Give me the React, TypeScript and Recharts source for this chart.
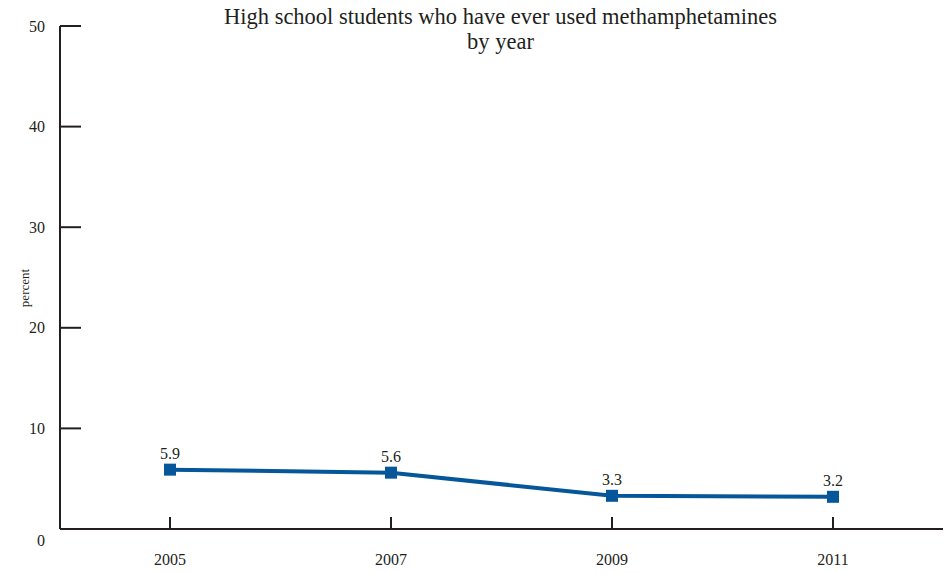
import React from "react";
import { LineChart, Line, XAxis, YAxis, LabelList } from "recharts";

const years = ["2005", "2007", "2009", "2011"];
const percents = [5.9, 5.6, 3.3, 3.2];
const yTicks = [0, 10, 20, 30, 40, 50];

const data = years.map((year, i) => ({ year, value: percents[i] }));

const INK = "#231f20";
const BLUE = "#05579a";
const FONT = "'Liberation Serif', 'DejaVu Serif', serif";

const YTick = (props: any) => {
  const { x, y, payload } = props;
  const isZero = payload.value === 0;
  return (
    <g>
      {!isZero && <line x1={x} x2={x + 21} y1={y} y2={y} stroke={INK} strokeWidth={2} />}
      <text
        x={x - 15}
        y={isZero ? y + 11 : y}
        dy="0.35em"
        textAnchor="end"
        fill={INK}
        style={{ fontFamily: FONT, fontSize: 16 }}
      >
        {payload.value}
      </text>
    </g>
  );
};

const XTick = (props: any) => {
  const { x, y, payload } = props;
  return (
    <g>
      <line x1={x} x2={x} y1={y} y2={y - 12} stroke={INK} strokeWidth={2} />
      <text x={x} y={y + 36} textAnchor="middle" fill={INK} style={{ fontFamily: FONT, fontSize: 16 }}>
        {payload.value}
      </text>
    </g>
  );
};

const SquareDot = (props: any) => {
  const { cx, cy } = props;
  return <rect x={cx - 6} y={cy - 6} width={12} height={12} fill={BLUE} />;
};

const ValueLabel = (props: any) => {
  const { x, y, width, value } = props;
  return (
    <text
      x={x + (width || 0) / 2}
      y={y - 11}
      textAnchor="middle"
      fill={INK}
      style={{ fontFamily: FONT, fontSize: 16 }}
    >
      {value}
    </text>
  );
};

export default function App() {
  return (
    <div style={{ position: "absolute", left: 0, top: 0, width: 948, height: 573, background: "#fff" }}>
      <LineChart
        width={948}
        height={573}
        data={data}
        margin={{ top: 26, right: 5, left: 0, bottom: 0 }}
      >
        <XAxis
          dataKey="year"
          height={44}
          padding={{ left: 110, right: 110 }}
          tickLine={false}
          tickSize={0}
          tickMargin={0}
          axisLine={{ stroke: INK, strokeWidth: 2 }}
          tick={<XTick />}
        />
        <YAxis
          width={60}
          domain={[0, 50]}
          ticks={yTicks}
          tickLine={false}
          tickSize={0}
          tickMargin={0}
          axisLine={{ stroke: INK, strokeWidth: 2 }}
          tick={<YTick />}
        />
        <Line
          dataKey="value"
          stroke={BLUE}
          strokeWidth={4}
          dot={<SquareDot />}
          activeDot={false}
          isAnimationActive={false}
        >
          <LabelList dataKey="value" content={<ValueLabel />} />
        </Line>
      </LineChart>
      <div
        style={{
          position: "absolute",
          left: 60,
          width: 881,
          top: 4,
          textAlign: "center",
          fontFamily: FONT,
          fontSize: 22.5,
          lineHeight: "25px",
          color: INK,
        }}
      >
        High school students who have ever used methamphetamines
        <br />
        by year
      </div>
      <div
        style={{
          position: "absolute",
          left: 25,
          top: 288,
          transform: "translate(-50%, -50%) rotate(-90deg)",
          fontFamily: FONT,
          fontSize: 13,
          color: INK,
          whiteSpace: "nowrap",
        }}
      >
        percent
      </div>
    </div>
  );
}
